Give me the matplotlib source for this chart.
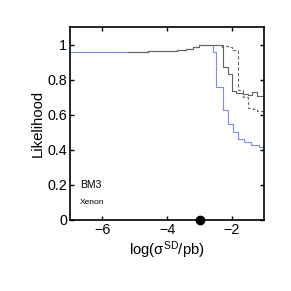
import matplotlib
matplotlib.use("Agg")
import matplotlib.pyplot as plt
from matplotlib.ticker import FuncFormatter

plt.rcParams['font.family'] = ['Liberation Sans', 'DejaVu Sans']
plt.rcParams['mathtext.fontset'] = 'custom'
plt.rcParams['mathtext.rm'] = 'Liberation Sans'
plt.rcParams['mathtext.it'] = 'Liberation Sans:italic'

# Data (step curves)
blue_x = [-7.0, -5.3, -4.6, -4.0, -3.7, -3.4, -3.2, -3.0, -2.59, -2.48, -2.28, -2.12, -1.97, -1.81, -1.61, -1.40, -1.14, -1.0]
blue_y = [0.958, 0.960, 0.962, 0.966, 0.970, 0.977, 0.987, 1.0, 0.96, 0.76, 0.626, 0.546, 0.50, 0.464, 0.445, 0.43, 0.415, 0.405]

solid_x = [-5.2, -4.6, -4.0, -3.7, -3.4, -3.2, -3.0, -2.30, -2.26, -2.12, -1.99, -1.85, -1.66, -1.50, -1.37, -1.23, -1.0]
solid_y = [0.960, 0.962, 0.966, 0.970, 0.977, 0.987, 1.0, 0.985, 0.875, 0.83, 0.735, 0.726, 0.716, 0.71, 0.73, 0.706, 0.70]

dash_x = [-5.2, -4.6, -4.0, -3.7, -3.4, -3.2, -3.0, -2.28, -2.12, -2.0, -1.81, -1.66, -1.50, -1.35, -1.20, -1.0]
dash_y = [0.960, 0.962, 0.966, 0.970, 0.977, 0.987, 1.0, 0.99, 0.985, 0.97, 0.744, 0.70, 0.64, 0.632, 0.62, 0.615]

marker_x = [-2.97]
marker_y = [0.0]

xticks = [-6, -4, -2]
yticks = [0, 0.2, 0.4, 0.6, 0.8, 1.0]

fig = plt.figure(figsize=(2.91, 2.91), dpi=100)
ax = fig.add_axes([0.241, 0.244, 0.666, 0.663])

ax.step(blue_x, blue_y, where='post', color='#7b8cf0', lw=0.8)
ax.step(solid_x, solid_y, where='post', color='#606060', lw=0.8)
ax.step(dash_x, dash_y, where='post', color='#6a6a6a', lw=0.8, ls=(0, (3, 2)))

ax.plot(marker_x, marker_y, 'o', color='black', ms=6, clip_on=False, zorder=5)

ax.set_xlim(-7, -1)
ax.set_ylim(0, 1.1)
ax.set_xticks(xticks)
ax.set_yticks(yticks)
ax.yaxis.set_major_formatter(FuncFormatter(lambda v, p: f"{v:g}"))
ax.xaxis.set_major_formatter(FuncFormatter(lambda v, p: f"\u2212{abs(v):g}" if v < 0 else f"{v:g}"))
ax.tick_params(direction='in', top=True, right=True, labelsize=10.3, length=3, width=1, pad=2)
for s in ax.spines.values():
    s.set_linewidth(1.2)

ax.set_ylabel('Likelihood', fontsize=10.7, labelpad=2)
ax.set_xlabel(r'log($\mathregular{σ^{SD}}$/pb)', fontsize=10.7, labelpad=2)

ax.text(-6.7, 0.2, 'BM3', fontsize=7.5, va='center', ha='left')
ax.text(-6.7, 0.1, 'Xenon', fontsize=6, va='center', ha='left')

fig.savefig('out.png', dpi=100)
